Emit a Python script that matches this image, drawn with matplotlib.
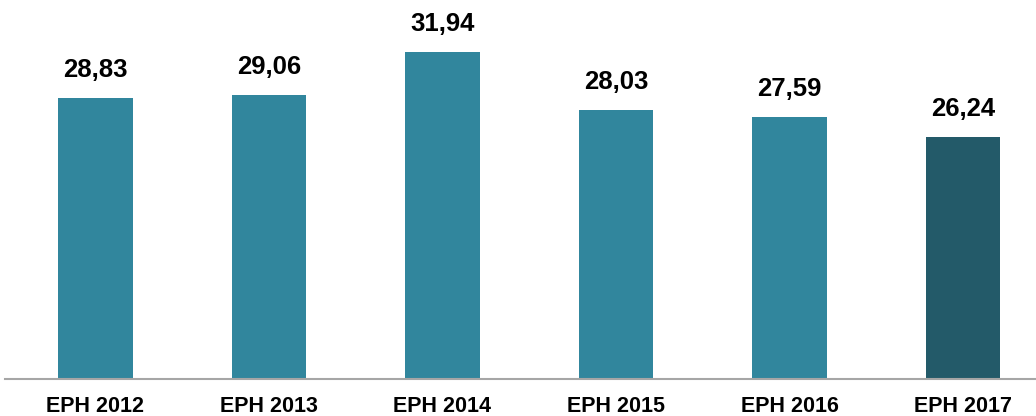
import matplotlib.pyplot as plt
from matplotlib import font_manager

categories = ['EPH 2012', 'EPH 2013', 'EPH 2014', 'EPH 2015', 'EPH 2016', 'EPH 2017']
values = [28.83, 29.06, 31.94, 28.03, 27.59, 26.24]
labels = ['28,83', '29,06', '31,94', '28,03', '27,59', '26,24']

teal = '#31869d'
dark = '#235a69'
colors = [teal] * 5 + [dark]

names = {f.name for f in font_manager.fontManager.ttflist}
narrow = 'Liberation Sans Narrow' if 'Liberation Sans Narrow' in names else 'Liberation Sans'

W, H = 1036, 416
fig = plt.figure(figsize=(W / 100, H / 100), dpi=100)
base = 379
ax = fig.add_axes([5 / W, 1 - base / H, 1031 / W, base / H])

x = list(range(len(values)))
ax.bar(x, values, width=0.43, color=colors, zorder=2)

ax.set_xlim(-0.52, 5.42)
ax.set_ylim(9.95, 9.95 + base / 14.86)

for xi, v, t in zip(x, values, labels):
    ax.annotate(t, (xi, v), xytext=(0, 16), textcoords='offset pixels',
                ha='center', va='bottom', fontsize=18.5, fontweight='bold',
                family='Liberation Sans', color='#000000')

for s in ['top', 'right', 'left']:
    ax.spines[s].set_visible(False)
ax.spines['bottom'].set_color('#a6a6a6')
ax.spines['bottom'].set_linewidth(1.5)

ax.set_yticks([])
ax.set_xticks(x)
ax.set_xticklabels(categories, fontsize=15.5, fontweight='bold', family=narrow)
ax.tick_params(axis='x', length=0, pad=12)

fig.savefig('out.png', dpi=100)
